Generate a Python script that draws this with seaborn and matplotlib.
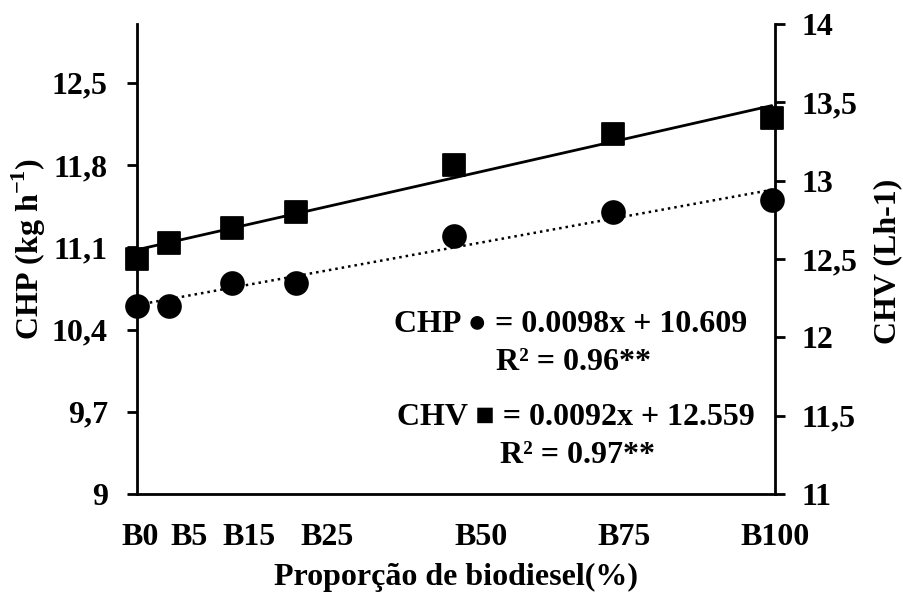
import matplotlib
matplotlib.use("Agg")
import matplotlib.pyplot as plt
import numpy as np
import pandas as pd
import seaborn as sns

# Biodiesel blend proportions (%) and measured consumption
proportion = [0, 5, 15, 25, 50, 75, 100]
chp = [10.6, 10.6, 10.8, 10.8, 11.2, 11.4, 11.5]     # kg h-1 (left axis)
chv = [12.5, 12.6, 12.7, 12.8, 13.1, 13.3, 13.4]     # L h-1 (right axis)

# Fitted linear models
chp_slope, chp_intercept = 0.0098, 10.609
chv_slope, chv_intercept = 0.0092, 12.559

# Blend tick labels and where they sit along the x axis
blend_labels = ["B0", "B5", "B15", "B25", "B50", "B75", "B100"]
blend_label_pos = [0.5, 8.2, 17.6, 30, 54.2, 76.7, 100.5]

left_ticks = [9, 9.7, 10.4, 11.1, 11.8, 12.5]
right_ticks = [11, 11.5, 12, 12.5, 13, 13.5, 14]

sns.set_theme(style="white")
plt.rcParams["font.family"] = ["Liberation Serif", "DejaVu Serif"]
plt.rcParams["font.weight"] = "bold"
plt.rcParams["mathtext.fontset"] = "custom"
plt.rcParams["mathtext.bf"] = "Liberation Serif:bold"
plt.rcParams["mathtext.rm"] = "Liberation Serif:bold"

df = pd.DataFrame({"x": proportion, "CHP": chp, "CHV": chv})
xfit = np.array([0, 100])
fit = pd.DataFrame({
    "x": xfit,
    "CHP": chp_intercept + chp_slope * xfit,
    "CHV": chv_intercept + chv_slope * xfit,
})

fig = plt.figure(figsize=(9.04, 5.93), dpi=100)
ax = fig.add_axes([137 / 904, 1 - 494 / 593, (775 - 137) / 904, (494 - 24) / 593])
ax2 = ax.twinx()

# CHP: circles with dotted trend line
sns.lineplot(data=fit, x="x", y="CHP", ax=ax, color="black", lw=1.8,
             linestyle=(0, (1, 1.6)), zorder=3)
sns.scatterplot(data=df, x="x", y="CHP", ax=ax, marker="o", s=270,
                color="black", edgecolor="black", zorder=4, clip_on=False)

# CHV: squares with solid trend line
sns.lineplot(data=fit, x="x", y="CHV", ax=ax2, color="black", lw=2.0, zorder=3)
sns.scatterplot(data=df, x="x", y="CHV", ax=ax2, marker="s", s=250,
                color="black", edgecolor="black", zorder=4, clip_on=False)

ax.set_xlim(0, 100)
ax.set_ylim(9, 13)
ax2.set_ylim(11, 14)

ax.set_yticks(left_ticks)
ax.set_yticklabels([f"{v:g}".replace(".", ",") for v in left_ticks])
ax2.set_yticks(right_ticks)
ax2.set_yticklabels([f"{v:g}".replace(".", ",") for v in right_ticks])
ax.set_xticks(blend_label_pos)
ax.set_xticklabels(blend_labels)

fs = 23
tick_font = dict(labelsize=fs, width=2, color="black", labelcolor="black")
ax.tick_params(axis="y", direction="out", length=7, pad=14, left=True, **tick_font)
ax2.tick_params(axis="y", direction="out", length=7, pad=12, right=True, **tick_font)
ax.tick_params(axis="x", length=0, pad=21, labelsize=fs, labelcolor="black")
for lab in ax.get_xticklabels() + ax.get_yticklabels() + ax2.get_yticklabels():
    lab.set_fontweight("bold")

for a in (ax, ax2):
    a.spines["top"].set_visible(False)
    for s in ("left", "right", "bottom"):
        a.spines[s].set_linewidth(2)
        a.spines[s].set_color("black")
ax.spines["right"].set_visible(False)
ax2.spines["left"].set_visible(False)
ax2.spines["bottom"].set_visible(False)

label_font = dict(fontsize=fs, fontweight="bold", color="black")
ax.set_xlabel("Proporção de biodiesel(%)", va="center", **label_font)
ax.xaxis.set_label_coords(0.5, -0.1766)
ax.set_ylabel(r"CHP (kg h$^{\mathbf{-1}}$)", va="center", **label_font)
ax.yaxis.set_label_coords(-0.169, 0.522)
ax2.set_ylabel("CHV (Lh-1)", va="center", rotation=90, **label_font)
ax2.yaxis.set_label_coords(1.177, 0.494)

ax.text(96.1, 10.44, f"CHP \u25cf = {chp_slope}x + {chp_intercept}",
        ha="right", va="center", **label_font)
ax.text(68.7, 10.12, "R² = 0.96**", ha="center", va="center", **label_font)
ax.text(97.3, 9.65, f"CHV \u25a0 = {chv_slope}x + {chv_intercept}",
        ha="right", va="center", **label_font)
ax.text(69.4, 9.33, "R² = 0.97**", ha="center", va="center", **label_font)

fig.savefig("out.png", dpi=100)
